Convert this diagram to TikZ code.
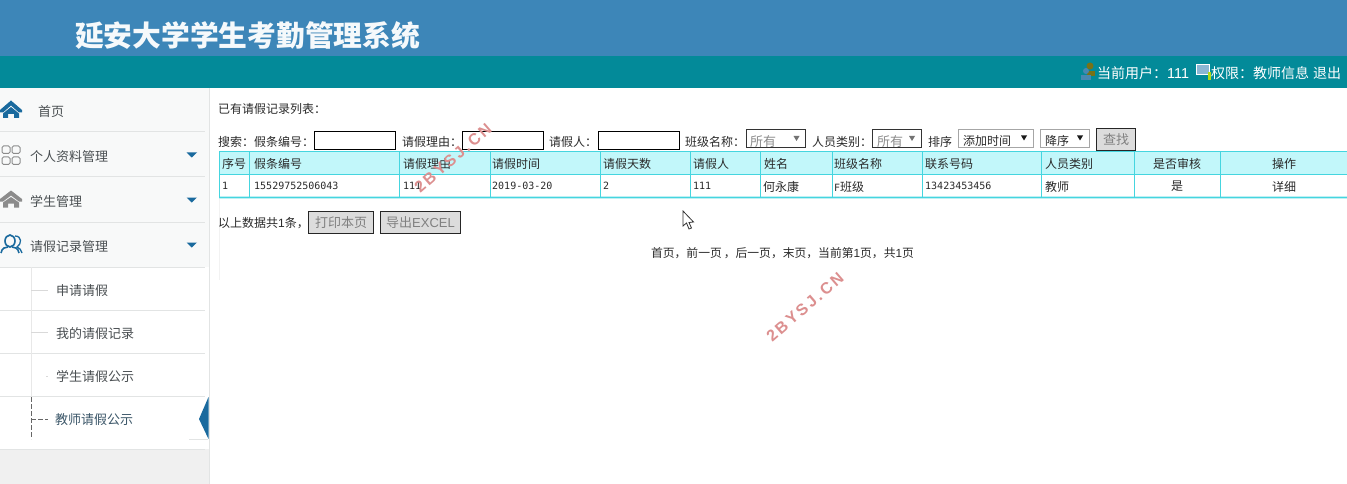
\documentclass[tikz,border=0pt]{standalone}
\usepackage{fontspec}
\setmainfont{Noto Sans CJK SC}
\newfontfamily\lsf{Liberation Sans}
\newfontfamily\wmf[LetterSpace=16]{Liberation Sans}
\newfontfamily\msf{DejaVu Sans Mono}
\definecolor{hblue}{HTML}{3D86B8}
\definecolor{hteal}{HTML}{038A99}
\definecolor{navy}{HTML}{1A6A9E}
\definecolor{side}{HTML}{F8F9F9}
\definecolor{sideline}{HTML}{E2E4E4}
\definecolor{tline}{HTML}{45D5DF}
\definecolor{thead}{HTML}{C2F7FA}
\definecolor{ink}{HTML}{2A2A2A}
\definecolor{menu}{HTML}{4A4F52}
\definecolor{wm}{HTML}{DC8F8F}
\definecolor{btn}{HTML}{DCDCDC}
\tikzset{
 lbl/.style={anchor=west,inner sep=0pt,yshift=-.5pt,font=\fontsize{12}{12}\selectfont,text=ink},
 ctr/.style={anchor=center,inner sep=0pt,yshift=-.5pt,font=\fontsize{12}{12}\selectfont,text=ink},
 num/.style={anchor=west,inner sep=0pt,font=\msf\fontsize{10}{10}\selectfont,text=ink},
 mlbl/.style={anchor=west,inner sep=0pt,yshift=-.8pt,font=\fontsize{13}{13}\selectfont,text=menu},
 inbox/.style={draw=black,fill=white,line width=1pt},
 selbox/.style={draw=black!80,fill=white,line width=1pt},
 sellight/.style={draw=black!35,fill=white,line width=.8pt},
 pushbtn/.style={draw=black!85,fill=btn,line width=1pt},
 btxt/.style={anchor=center,inner sep=0pt,font=\fontsize{13}{13}\selectfont,text=black!50},
 watermark/.style={anchor=center,inner sep=0pt,rotate=41,text=wm,font=\wmf\bfseries\fontsize{16}{16}\selectfont},
 ul/.style={anchor=west,inner sep=0pt,text=white,font=\fontsize{14}{14}\selectfont},
}
\begin{document}
\begin{tikzpicture}[x=1pt,y=-1pt]
\useasboundingbox (0,0) rectangle (1347,484);
\fill[white] (0,0) rectangle (1347,484);
% header
\fill[hblue] (0,0) rectangle (1347,56);
\fill[hteal] (0,56) rectangle (1347,88);
\node[anchor=center,inner sep=0pt,text=white!95!hblue,font=\fontsize{28.75}{29}\bfseries\selectfont] (title) at (247.5,36) {延安大学学生考勤管理系统};
% user area
\fill[olive!80!black] (1090,66) circle (3.5);
\fill[olive!80!black] (1087,76) rectangle (1095,71);
\fill[navy!80] (1086,71) circle (3);
\fill[navy!80] (1081,80) rectangle (1091,75);
\node[ul] (cu) at (1097,73) {当前用户：{\lsf\fontsize{14.4}{14}\selectfont 111}};
\draw[white,fill=hblue!60!white,line width=.8pt] (1196,64) rectangle (1209,74);
\fill[yellow!70!green] (1208,72) rectangle (1211,80);
\node[ul] (qx) at (1211,73) {权限：教师信息};
\node[ul] (logout) at (1313,73) {退出};
% sidebar
\fill[side] (0,88) rectangle (209,449);
\fill[white] (0,267) rectangle (209,449);
\fill[black!6] (0,449) rectangle (209,484);
\draw[sideline,line width=1pt] (209,88) -- (209,484);
\foreach \yy in {132,177,222,267,310,353,396,449} \draw[sideline,line width=1pt] (0,\yy) -- (205,\yy);
% home icon
\fill[navy] (0,110) -- (11,100.5) -- (22,110) -- (22,112.5) -- (19,112.5) -- (11,105.5) -- (3,112.5) -- (0,112.5) -- cycle;
\fill[navy] (3,113.5) -- (11,107) -- (19,113.5) -- (19,118) -- (14,118) -- (14,114) -- (8,114) -- (8,118) -- (3,118) -- cycle;
\node[mlbl] (m0) at (38,111) {首页};
% grid icon
\foreach \xx in {2,12}{\foreach \zz in {146,157}{\draw[black!45,line width=1pt,rounded corners=1.5pt] (\xx,\zz) rectangle +(8,7.5);}}
\node[mlbl] (m1) at (30,156) {个人资料管理};
% gray home icon
\fill[black!45] (0,199) -- (11,190.5) -- (22,199) -- (22,201.5) -- (19,201.5) -- (11,195.5) -- (3,201.5) -- (0,201.5) -- cycle;
\fill[black!45] (3,202.5) -- (11,197) -- (19,202.5) -- (19,207.5) -- (14,207.5) -- (14,203.5) -- (8,203.5) -- (8,207.5) -- (3,207.5) -- cycle;
\node[mlbl] (m2) at (30,201) {学生管理};
% people icon
\draw[navy,line width=1.6pt] (10,241) circle (5 and 6);
\draw[navy,line width=1.6pt] (1,253) .. controls (2,248) and (5,247) .. (8,247);
\draw[navy,line width=1.6pt] (19,253) .. controls (18,248) and (15,247) .. (12,247);
\draw[navy,line width=1.3pt] (15,236) .. controls (22,236) and (22,244) .. (17,247) .. controls (20,248) and (21,250) .. (22,253);
\node[mlbl] (m3) at (30,246) {请假记录管理};
% menu carets
\foreach \yy in {155,200,245}{\fill[navy] (186.5,\yy-2.5) -- (197,\yy-2.5) -- (191.75,\yy+2.5) -- cycle;}
% submenu
\draw[black!9,line width=1pt] (31,267) -- (31,396);
\foreach \yy in {290,332}{\draw[black!15,line width=.8pt] (31,\yy) -- (48,\yy);}
\draw[black!15,line width=.8pt] (46,376) -- (48,376);
\draw[black!60,line width=.8pt,dash pattern=on 5pt off 2pt] (31,397) -- (31,439);
\draw[black!60,line width=.8pt,dash pattern=on 5pt off 2pt] (31,419) -- (48,419);
\node[mlbl] (s1) at (56,290) {申请请假};
\node[mlbl] (s2) at (56,333) {我的请假记录};
\node[mlbl] (s3) at (56,376) {学生请假公示};
\node[mlbl,text=menu!70!navy] (s4) at (55,419) {教师请假公示};
\draw[sideline,line width=.8pt] (189,439) -- (208,439);
\fill[navy] (208.5,397) -- (199,419) -- (208.5,439) -- cycle;
% content
\draw[black!5,line width=1pt] (219,197) -- (219,280);
\node[lbl] (t0) at (218,108) {已有请假记录列表：};
\node[lbl] (t1) at (218,141) {搜索：};
\node[lbl] (t2) at (254,141) {假条编号：};
\node[inbox,anchor=north west,minimum width=81pt,minimum height=18pt] (i1) at (314,131) {};
\node[lbl] (t3) at (402,141) {请假理由：};
\node[inbox,anchor=north west,minimum width=81pt,minimum height=18pt] (i2) at (462,131) {};
\node[lbl] (t4) at (549,141) {请假人：};
\node[inbox,anchor=north west,minimum width=81pt,minimum height=18pt] (i3) at (598,131) {};
\node[lbl] (t5) at (685,141) {班级名称：};
\node[selbox,anchor=north west,minimum width=59pt,minimum height=18pt] (s5) at (746,129) {};
\node[lbl,text=black!45,font=\fontsize{13}{13}\selectfont] at (750,141) {所有};
\fill[black!55] (793.5,136) -- (799.5,136) -- (796.5,141) -- cycle;
\node[lbl] (t6) at (812,141) {人员类别：};
\node[selbox,anchor=north west,minimum width=49pt,minimum height=18pt] (s6) at (872,129) {};
\node[lbl,text=black!45,font=\fontsize{13}{13}\selectfont] at (877,141) {所有};
\fill[black!55] (909,136) -- (915,136) -- (912,141) -- cycle;
\node[lbl] (t7) at (928,141) {排序};
\node[sellight,anchor=north west,minimum width=75pt,minimum height=18pt] (s7) at (958,129) {};
\node[lbl] at (963,140) {添加时间};
\fill[black!90] (1021,135.5) -- (1027,135.5) -- (1024,140.5) -- cycle;
\node[sellight,anchor=north west,minimum width=49pt,minimum height=18pt] (s8) at (1040,129) {};
\node[lbl] at (1045,140) {降序};
\fill[black!90] (1077,135.5) -- (1083,135.5) -- (1080,140.5) -- cycle;
\node[pushbtn,anchor=north west,minimum width=39pt,minimum height=22pt] (b0) at (1096,128.5) {};
\node[btxt] at (b0.center) {查找};
% table
\fill[thead] (219,152) rectangle (1347,175);
\draw[tline!35,line width=3pt] (219,197.5) -- (1347,197.5);
\draw[tline,line width=1pt] (219,152) -- (1347,152) (219,175) -- (1347,175) (219,197) -- (1347,197);
\foreach \xx in {219,249.5,399.5,490,600,690,760,832,922,1041,1134,1220}{\draw[tline,line width=1pt] (\xx,152) -- (\xx,197);}
\foreach \xx/\tt in {222/序号,254/假条编号,403/请假理由,492/请假时间,603/请假天数,693/请假人,764/姓名,834/班级名称,925/联系号码,1045/人员类别}{\node[lbl] at (\xx,163.5) {\tt};}
\node[ctr] at (1177,163.5) {是否审核};
\node[ctr] at (1284,163.5) {操作};
\node[num] at (222,186) {1};
\node[num] at (254,186) {15529752506043};
\node[num] at (403,186) {111};
\node[num] at (492,186) {2019-03-20};
\node[num] at (603,186) {2};
\node[num] at (693,186) {111};
\node[lbl] at (763,186) {何永康};
\node[lbl] at (834,186) {{\msf\fontsize{10}{10}\selectfont F}班级};
\node[num] at (925,186) {13423453456};
\node[lbl] at (1045,186) {教师};
\node[ctr] at (1177,186) {是};
\node[ctr] at (1284,186) {详细};
% below the table
\node[lbl] (t8) at (218,222.5) {以上数据共{\lsf 1}条，};
\node[pushbtn,anchor=north west,minimum width=65pt,minimum height=22pt] (b1) at (308,211) {};
\node[btxt] at (b1.center) {打印本页};
\node[pushbtn,anchor=north west,minimum width=80pt,minimum height=22pt] (b2) at (380,211) {};
\node[btxt] at (b2.center) {导出{\lsf EXCEL}};
\node[ctr,font=\fontsize{11.8}{12}\selectfont] (pg) at (782.5,253) {首页，前一页\,，后一页，末页，当前第{\lsf 1}页，共{\lsf 1}页};
% cursor
\draw[black!80,fill=white,line width=.8pt] (683,211) -- (683,226) -- (686.5,223) -- (689,229) -- (691.5,228) -- (689,222.5) -- (693.5,222) -- cycle;
% watermarks
\node[watermark] (w1) at (453,158) {2BYSJ.CN};
\node[watermark] (w2) at (805,307) {2BYSJ.CN};
\end{tikzpicture}
\end{document}
